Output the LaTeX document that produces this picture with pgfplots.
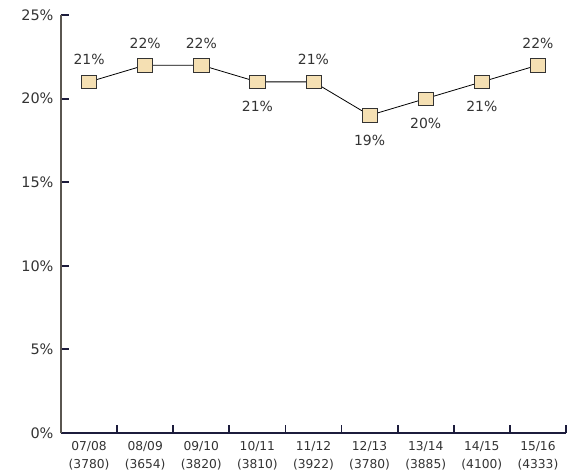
\documentclass[border=0pt]{standalone}
\usepackage{fontspec}
\setmainfont{DejaVu Sans}
\usepackage{pgfplots}
\pgfplotsset{compat=1.18}
\definecolor{navy}{HTML}{1C1C3C}
\definecolor{axgrey}{HTML}{5A5650}
\definecolor{tan}{HTML}{F5E0B3}
\definecolor{txt}{HTML}{333333}

\pgfplotstableread{
x y pos
0 21 1
1 22 1
2 22 1
3 21 -1
4 21 1
5 19 -1
6 20 -1
7 21 -1
8 22 1
}\rates

\begin{document}
\begin{tikzpicture}
\begin{axis}[
  scale only axis, width=505bp, height=418bp,
  xmin=-0.5, xmax=8.5, ymin=0, ymax=25,
  axis lines=left, axis line style={-},
  x axis line style={navy, line width=1.8bp},
  y axis line style={axgrey, line width=1.2bp},
  tick align=inside,
  xtick={-0.5,0.5,...,8.5},
  x tick label as interval,
  xticklabels={07/08\\(3780),08/09\\(3654),09/10\\(3820),10/11\\(3810),11/12\\(3922),12/13\\(3780),13/14\\(3885),14/15\\(4100),15/16\\(4333)},
  xticklabel style={align=center, font=\fontsize{12.3}{18}\selectfont, text=txt, yshift=-5bp},
  xtick style={navy, line width=1.8bp},
  ytick={0,5,...,25},
  yticklabels={0\%,5\%,10\%,15\%,20\%,25\%},
  yticklabel style={font=\fontsize{14.5}{17}\selectfont, text=txt, xshift=-4bp},
  ytick style={navy, line width=2bp},
  major tick length=8bp,
  clip=false,
]
\coordinate (o) at (rel axis cs:0,0);
\addplot[black, line width=0.8bp, mark=square*,
  mark size=7.6bp, mark options={fill=tan, draw=black!80, line width=0.6bp, yscale=0.88},
  visualization depends on={\thisrow{pos} \as \pos},
  nodes near coords={\pgfmathprintnumber[assume math mode=true]{\pgfplotspointmeta}\%},
  point meta=explicit,
  every node near coord/.append style={anchor=center, font=\fontsize{14}{16}\selectfont, text=txt, yshift=\pos*22bp-(1-\pos)*1.5bp},
] table[x=x, y=y, meta=y] {\rates};
\end{axis}
\pgfresetboundingbox
\path (o) ++(-61bp,-37bp) rectangle ++(579bp,470bp);
\end{tikzpicture}
\end{document}
